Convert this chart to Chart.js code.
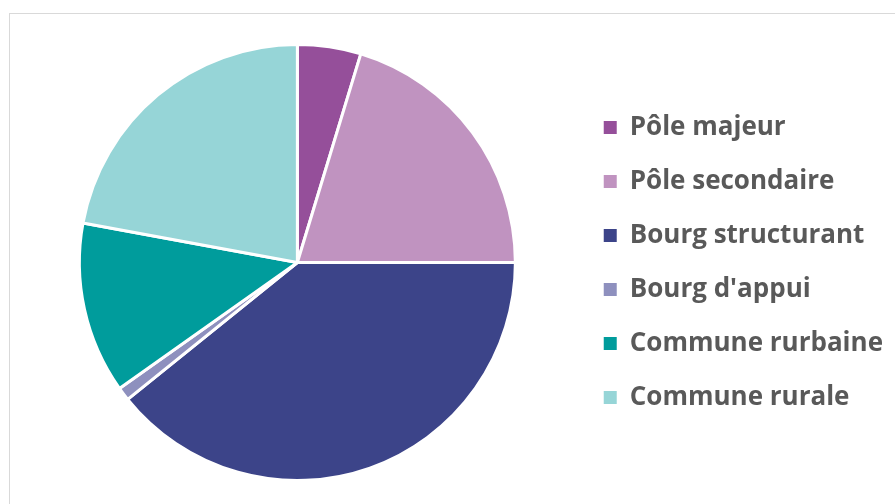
<!DOCTYPE html>
<html>
<head>
<meta charset="utf-8">
<script src="https://cdn.jsdelivr.net/npm/chart.js@4"></script>
<style>
  html, body { margin: 0; padding: 0; background: #fff; }
  #wrap { position: relative; width: 895px; height: 504px; overflow: hidden; }
  #frame { position: absolute; left: 9px; top: 13px; width: 900px; height: 500px; border: 1px solid #d9d9d9; box-sizing: border-box; }
  canvas { position: absolute; left: 0; top: 0; }
</style>
</head>
<body>
<div id="wrap">
  <div id="frame"></div>
  <canvas id="pie" width="895" height="504"></canvas>
</div>
<script>
// categories and shares (%)
const categories = ['Pôle majeur', 'Pôle secondaire', 'Bourg structurant', "Bourg d'appui", 'Commune rurbaine', 'Commune rurale'];
const shares = [4.7, 20.3, 39.2, 1.0, 12.7, 22.1];
const colors = ['#954F9A', '#C093C0', '#3C4489', '#8E90BE', '#009C9C', '#96D5D7'];

const ctx = document.getElementById('pie').getContext('2d');
new Chart(ctx, {
  type: 'pie',
  data: {
    labels: categories,
    datasets: [{
      data: shares,
      backgroundColor: colors,
      borderColor: '#ffffff',
      borderWidth: 3
    }]
  },
  options: {
    responsive: false,
    animation: false,
    layout: { padding: { left: 19, top: 43, bottom: 22, right: 2 } },
    plugins: {
      tooltip: { enabled: false },
      legend: {
        position: 'right',
        labels: {
          color: '#595959',
          font: { family: '"Open Sans", sans-serif', size: 26, weight: 'bold' },
          boxWidth: 13,
          boxHeight: 13,
          padding: 28,
          generateLabels: function(chart) {
            const items = Chart.overrides.pie.plugins.legend.labels.generateLabels(chart);
            items.forEach(item => {
              item.strokeStyle = item.fillStyle;
              item.lineWidth = 0;
            });
            return items;
          }
        }
      }
    }
  }
});
</script>
</body>
</html>
